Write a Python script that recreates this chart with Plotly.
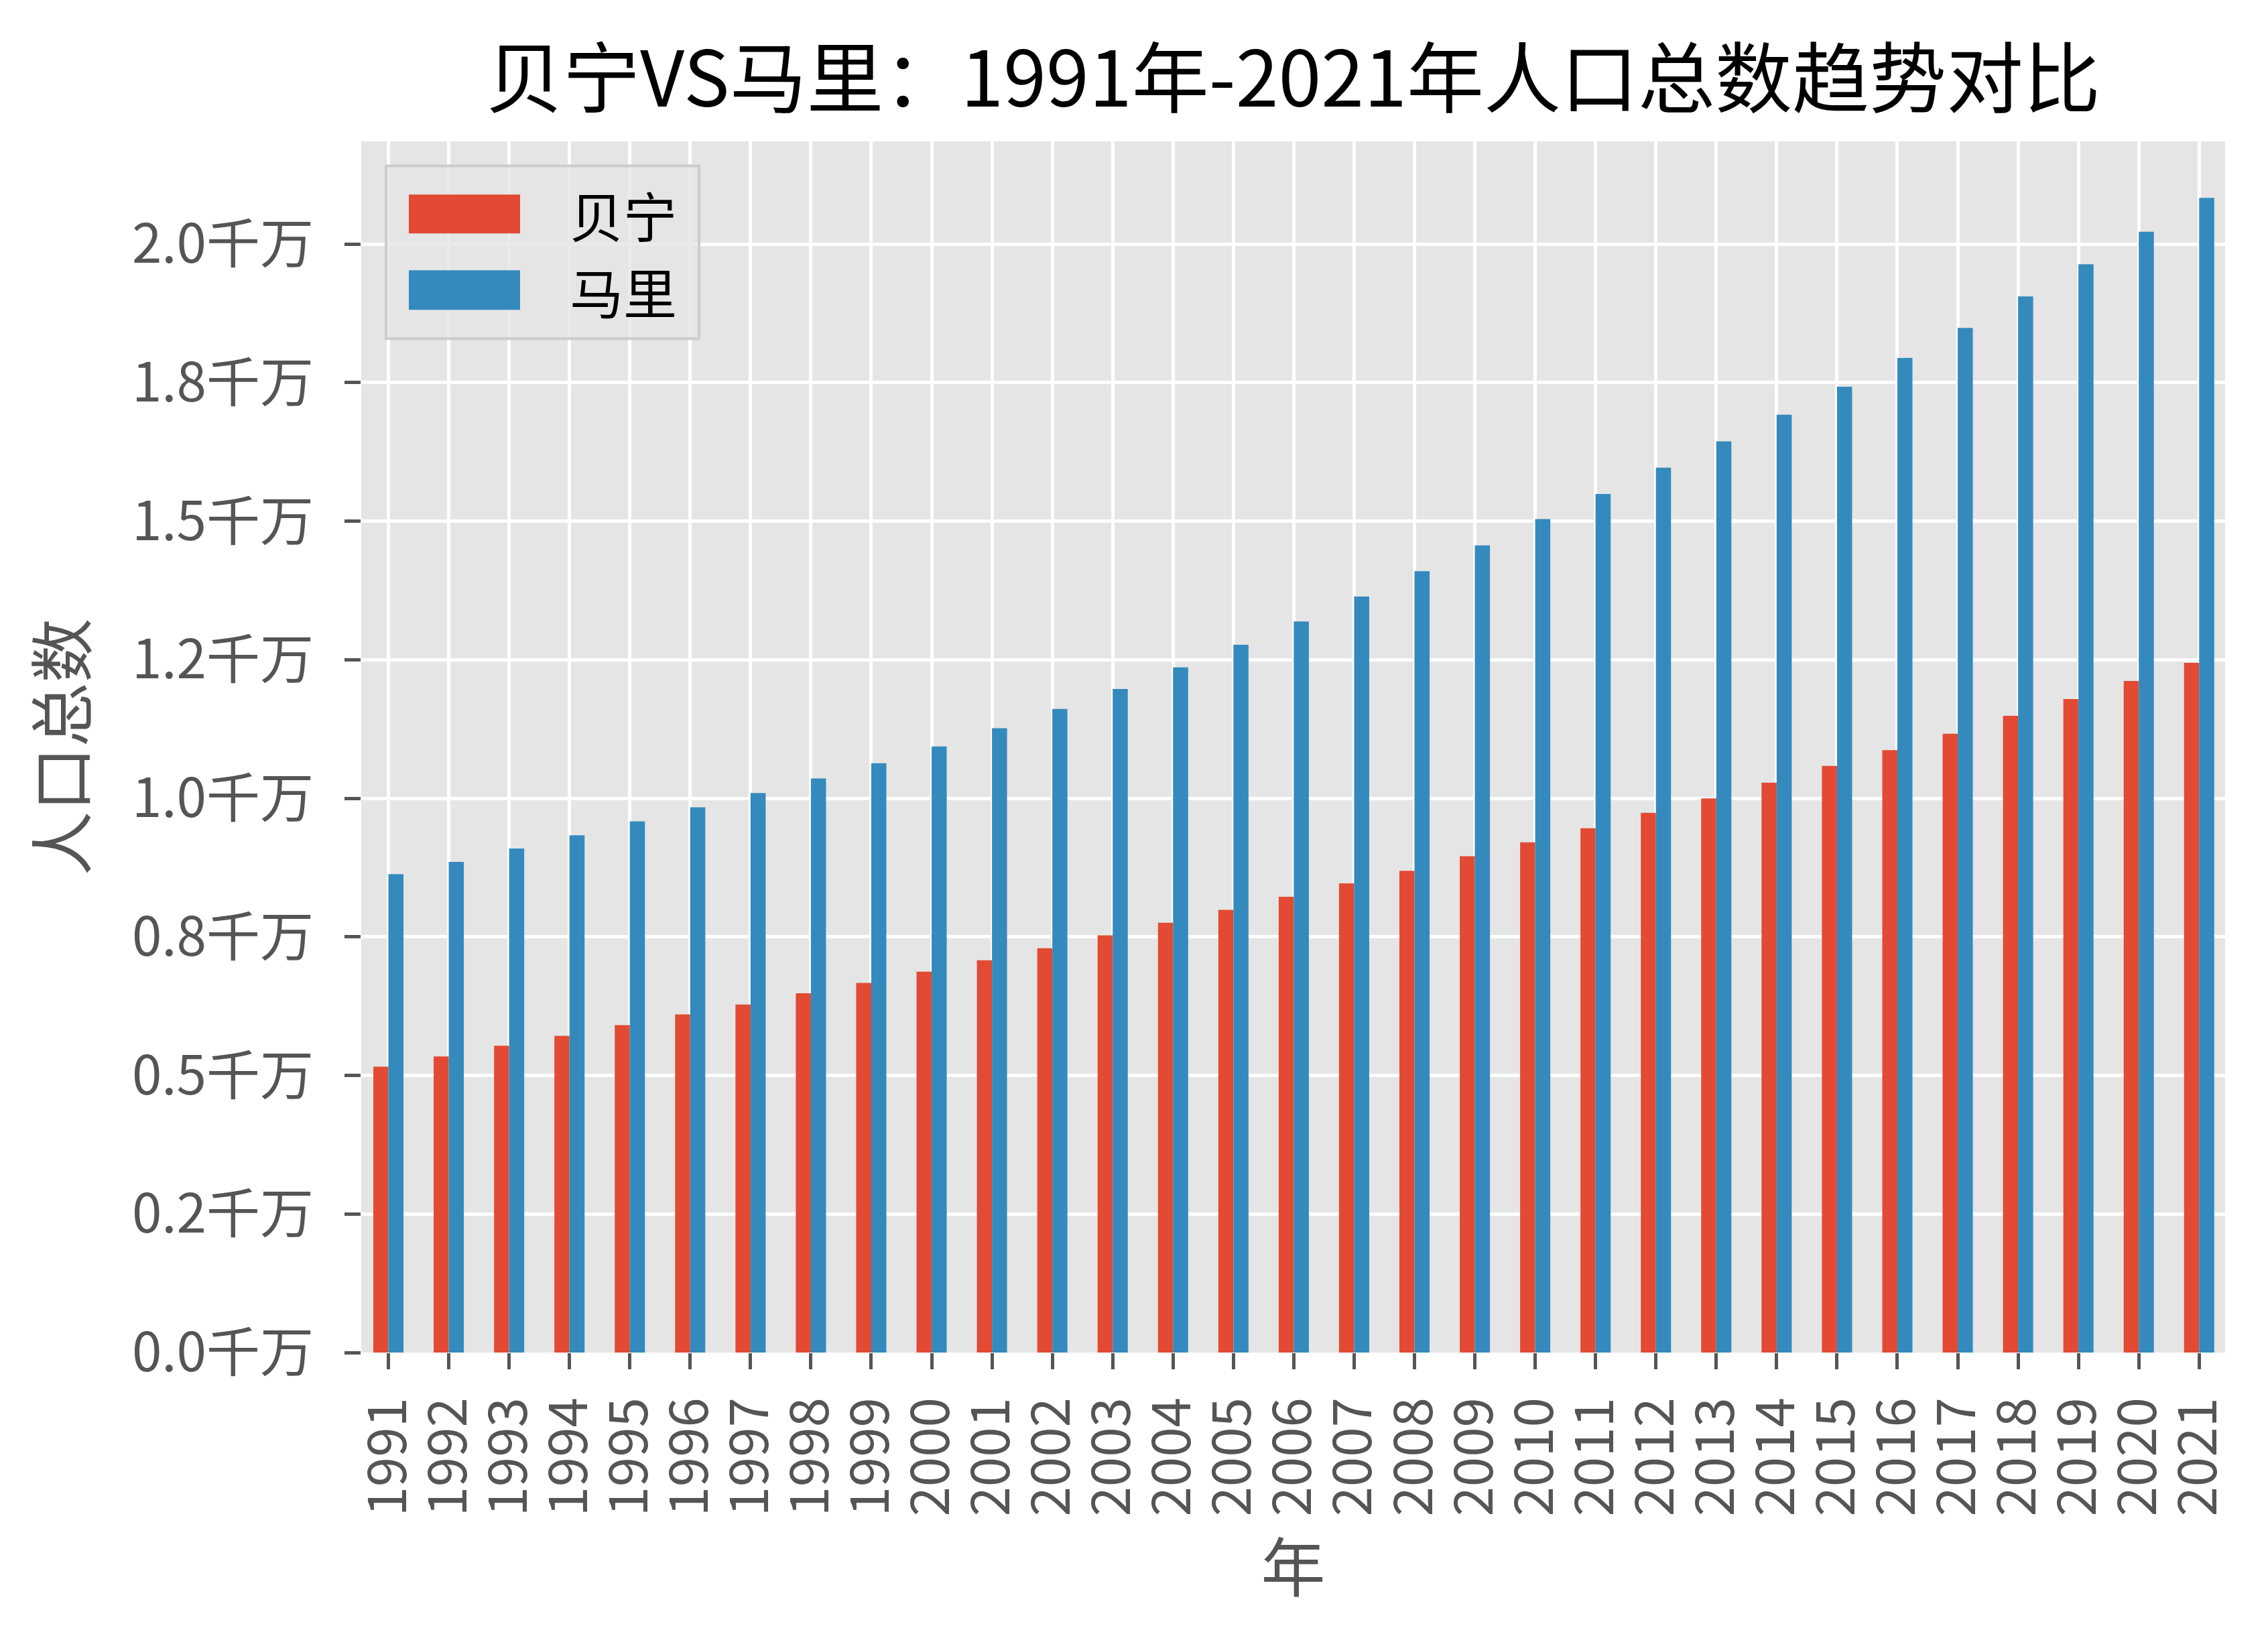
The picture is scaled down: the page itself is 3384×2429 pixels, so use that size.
import plotly.graph_objects as go

# ---- data ----
years = ["1991", "1992", "1993", "1994", "1995", "1996", "1997", "1998", "1999", "2000",
         "2001", "2002", "2003", "2004", "2005", "2006", "2007", "2008", "2009", "2010",
         "2011", "2012", "2013", "2014", "2015", "2016", "2017", "2018", "2019", "2020", "2021"]

benin = [5157000, 5342000, 5534000, 5714000, 5907000, 6099000, 6278000, 6482000, 6668000, 6872000,
         7077000, 7293000, 7527000, 7755000, 7988000, 8222000, 8464000, 8692000, 8953000, 9205000,
         9459000, 9736000, 9997000, 10282000, 10584000, 10868000, 11163000, 11488000, 11790000, 12116000,
         12442000]

mali = [8630000, 8852000, 9092000, 9332000, 9584000, 9836000, 10094000, 10357000, 10633000, 10933000,
        11264000, 11611000, 11972000, 12361000, 12769000, 13189000, 13641000, 14097000, 14562000, 15035000,
        15491000, 15965000, 16438000, 16919000, 17424000, 17945000, 18484000, 19054000, 19633000, 20220000,
        20831000]

series_names = ["贝宁", "马里"]
series_colors = ["#E24A33", "#348ABD"]

y_tick_values = [0, 2500000, 5000000, 7500000, 10000000, 12500000, 15000000, 17500000, 20000000]
y_tick_labels = ["0.0千万", "0.2千万", "0.5千万", "0.8千万", "1.0千万", "1.2千万", "1.5千万", "1.8千万", "2.0千万"]

title_text = "贝宁VS马里：1991年-2021年人口总数趋势对比"
x_title = "年"
y_title = "人口总数"

# ---- layout geometry (pixels of the 3384x2429 canvas) ----
W, H = 3384, 2429
L, R, T, B = 539, 3320, 210.6, 2018.5
FONT = "Noto Sans CJK SC"
GREY = "#555555"


def px(x):
    return (x - L) / (R - L)


def py(y):
    return 1 - (y - T) / (B - T)


fig = go.Figure()
for name, vals, col in zip(series_names, [benin, mali], series_colors):
    fig.add_trace(go.Bar(x=years, y=vals, name=name, marker=dict(color=col, line=dict(width=0)),
                         showlegend=False))

fig.update_layout(
    width=W, height=H,
    margin=dict(l=L, r=W - R, t=T, b=H - B, pad=0),
    paper_bgcolor="white",
    plot_bgcolor="#E5E5E5",
    barmode="group",
    bargap=0.5,
    bargroupgap=0,
    font=dict(family=FONT, color=GREY, size=80),
    title=dict(text=title_text, x=0.5, xref="paper", xanchor="center",
               y=1 - 119 / H, yref="container", yanchor="middle",
               font=dict(family=FONT, size=115, color="black")),
    showlegend=False,
)

fig.update_xaxes(
    type="category",
    range=[-0.45, 30.43],
    tickmode="array", tickvals=years, ticktext=years,
    tickangle=-90,
    ticks="outside", ticklen=24, tickwidth=5, tickcolor=GREY,
    ticklabelstandoff=10,
    tickfont=dict(family=FONT, size=80, color=GREY),
    showgrid=True, gridcolor="white", gridwidth=5,
    showline=False, zeroline=False,
    title=dict(text=x_title, font=dict(family=FONT, size=96, color=GREY), standoff=18),
)

fig.update_yaxes(
    range=[0, 21850000],
    tickmode="array", tickvals=y_tick_values, ticktext=y_tick_labels,
    ticks="outside", ticklen=24, tickwidth=5, tickcolor=GREY,
    ticklabelstandoff=30,
    tickfont=dict(family=FONT, size=80, color=GREY),
    showgrid=True, gridcolor="white", gridwidth=5,
    showline=False, zeroline=False,
    title=dict(text=y_title, font=dict(family=FONT, size=96, color=GREY), standoff=36),
)

# ---- legend (drawn as shapes + text to match matplotlib's large patches) ----
shapes = [
    dict(type="rect", xref="paper", yref="paper", x0=px(576), x1=px(1043), y0=py(505), y1=py(247),
         fillcolor="rgba(229,229,229,0.8)", line=dict(color="#CCCCCC", width=4), layer="above"),
]
legend_rows = [(290, 348), (403, 462)]
annotations = []
for (y0, y1), name, col in zip(legend_rows, series_names, series_colors):
    shapes.append(dict(type="rect", xref="paper", yref="paper", x0=px(610), x1=px(776),
                       y0=py(y1), y1=py(y0), fillcolor=col, line=dict(width=0), layer="above"))
    annotations.append(dict(text=name, xref="paper", yref="paper", x=px(848), y=py((y0 + y1) / 2),
                            xanchor="left", yanchor="middle", showarrow=False,
                            font=dict(family=FONT, size=80, color="black")))
fig.update_layout(shapes=shapes, annotations=annotations)

fig.write_html("out.html")
